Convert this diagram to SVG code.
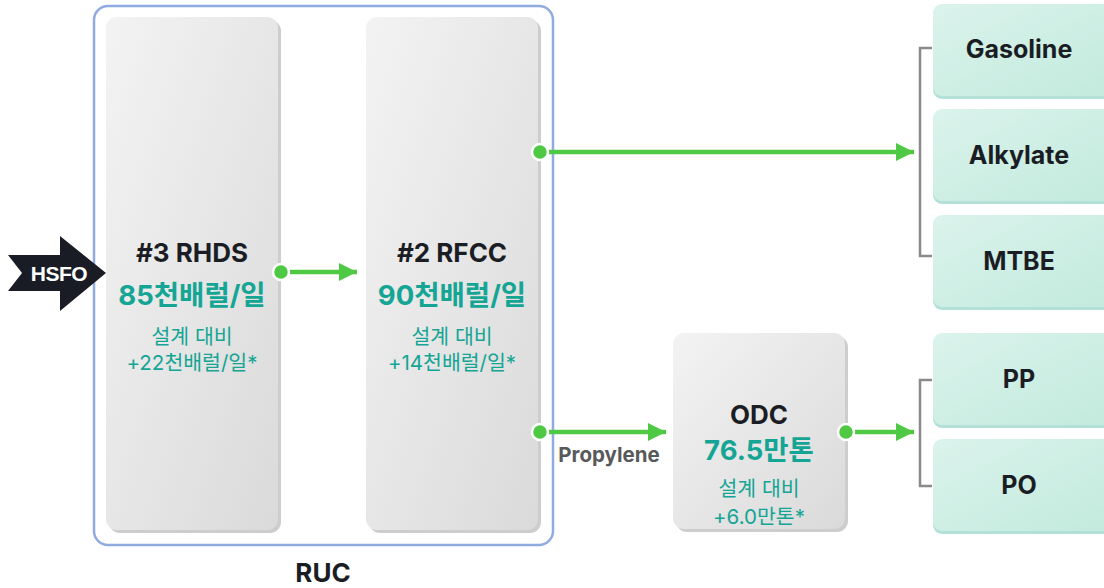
<svg xmlns="http://www.w3.org/2000/svg" width="1104" height="588" viewBox="0 0 1104 588">
  <defs>
    <linearGradient id="gGray" x1="0" y1="0" x2="1" y2="1">
      <stop offset="0" stop-color="#f3f3f3"/>
      <stop offset="1" stop-color="#dadada"/>
    </linearGradient>
    <linearGradient id="gTeal" x1="0" y1="0" x2="1" y2="1">
      <stop offset="0" stop-color="#dbf3ec"/>
      <stop offset="1" stop-color="#c2eadd"/>
    </linearGradient>
    <marker id="ah" viewBox="0 0 10 10" refX="10" refY="5" markerWidth="18" markerHeight="18" markerUnits="userSpaceOnUse" orient="auto">
      <path d="M0,0 L10,5 L0,10 Z" fill="#4fc944"/>
    </marker>
    <style>
      .title{font-family:Inter,"Noto Sans CJK KR",sans-serif;font-weight:700;font-size:26px;fill:#1b1d24;text-anchor:middle}
      .cap{font-family:Inter,"Noto Sans CJK KR",sans-serif;font-weight:700;font-size:27.5px;fill:#14a594;text-anchor:middle}
      .sub{font-family:Inter,"Noto Sans CJK KR",sans-serif;font-weight:400;font-size:20.5px;fill:#14a594;text-anchor:middle}
      .prod{font-family:Inter,"Noto Sans CJK KR",sans-serif;font-weight:700;font-size:25px;fill:#1b1d24;text-anchor:middle}
      .shadowG{fill:#cdcdcd}
      .shadowT{fill:#b3e1d8}
      .conn{stroke:#4fc944;stroke-width:4.5;fill:none}
      .dot{fill:#4fc944;stroke:#ffffff;stroke-width:2.5}
      .br{stroke:#8a8a8a;stroke-width:2.5;fill:none}
    </style>
  </defs>

  <g id="ruc">
    <rect x="94" y="6" width="459" height="539" rx="14" fill="none" stroke="#90abdf" stroke-width="2.5"/>
    <text x="323" y="582" class="title">RUC</text>
  </g>

  <g id="rhds">
    <rect x="109" y="20" width="172" height="513" rx="11" class="shadowG"/>
    <rect x="106" y="17" width="172" height="513" rx="11" fill="url(#gGray)"/>
    <text x="192" y="262" class="title">#3 RHDS</text>
    <text x="192" y="305" class="cap">85천배럴/일</text>
    <text x="192" y="344" class="sub">설계 대비</text>
    <text x="192" y="370" class="sub">+22천배럴/일*</text>
  </g>

  <g id="rfcc">
    <rect x="369" y="20" width="172" height="513" rx="11" class="shadowG"/>
    <rect x="366" y="17" width="172" height="513" rx="11" fill="url(#gGray)"/>
    <text x="452" y="262" class="title">#2 RFCC</text>
    <text x="452" y="305" class="cap">90천배럴/일</text>
    <text x="452" y="344" class="sub">설계 대비</text>
    <text x="452" y="370" class="sub">+14천배럴/일*</text>
  </g>

  <g id="odc">
    <rect x="676" y="336" width="172" height="196" rx="11" class="shadowG"/>
    <rect x="673" y="333" width="172" height="196" rx="11" fill="url(#gGray)"/>
    <text x="759" y="424" class="title">ODC</text>
    <text x="759" y="460" class="cap">76.5만톤</text>
    <text x="759" y="496" class="sub">설계 대비</text>
    <text x="759" y="524" class="sub">+6.0만톤*</text>
  </g>

  <g id="hsfo">
    <path d="M8,255 L60,255 L60,236 L106,273 L60,311 L60,291 L8,291 L22,273 Z" fill="#191c24"/>
    <text x="59" y="281" style="font-family:'Liberation Sans',Arial,sans-serif;font-weight:700;font-size:21px;fill:#ffffff;text-anchor:middle;letter-spacing:-0.5px">HSFO</text>
  </g>

  <g id="gasoline">
    <rect x="933" y="7" width="180" height="92" rx="9" class="shadowT"/>
    <rect x="933" y="4" width="180" height="92" rx="9" fill="url(#gTeal)"/>
    <text x="1019" y="58" class="prod">Gasoline</text>
  </g>
  <g id="alkylate">
    <rect x="933" y="112" width="180" height="92" rx="9" class="shadowT"/>
    <rect x="933" y="109" width="180" height="92" rx="9" fill="url(#gTeal)"/>
    <text x="1019" y="164" class="prod">Alkylate</text>
  </g>
  <g id="mtbe">
    <rect x="933" y="218" width="180" height="92" rx="9" class="shadowT"/>
    <rect x="933" y="215" width="180" height="92" rx="9" fill="url(#gTeal)"/>
    <text x="1019" y="270" class="prod">MTBE</text>
  </g>
  <g id="pp">
    <rect x="933" y="336" width="180" height="92" rx="9" class="shadowT"/>
    <rect x="933" y="333" width="180" height="92" rx="9" fill="url(#gTeal)"/>
    <text x="1019" y="388" class="prod">PP</text>
  </g>
  <g id="po">
    <rect x="933" y="442" width="180" height="92" rx="9" class="shadowT"/>
    <rect x="933" y="439" width="180" height="92" rx="9" fill="url(#gTeal)"/>
    <text x="1019" y="494" class="prod">PO</text>
  </g>

  <g id="connectors">
    <line x1="281" y1="272" x2="357" y2="272" class="conn" marker-end="url(#ah)"/>
    <circle cx="281" cy="272" r="8" class="dot"/>
    <line x1="540" y1="152" x2="914" y2="152" class="conn" marker-end="url(#ah)"/>
    <circle cx="540" cy="152" r="8" class="dot"/>
    <line x1="540" y1="432" x2="666" y2="432" class="conn" marker-end="url(#ah)"/>
    <circle cx="540" cy="432" r="8" class="dot"/>
    <text x="609" y="462" style="font-family:Inter,sans-serif;font-weight:700;font-size:20.5px;fill:#58595b;text-anchor:middle">Propylene</text>
    <line x1="846" y1="432" x2="914" y2="432" class="conn" marker-end="url(#ah)"/>
    <circle cx="846" cy="432" r="8" class="dot"/>
    <path d="M932,48 L920,48 L920,256 L932,256" class="br"/>
    <path d="M932,380 L920,380 L920,486 L932,486" class="br"/>
  </g>
</svg>
